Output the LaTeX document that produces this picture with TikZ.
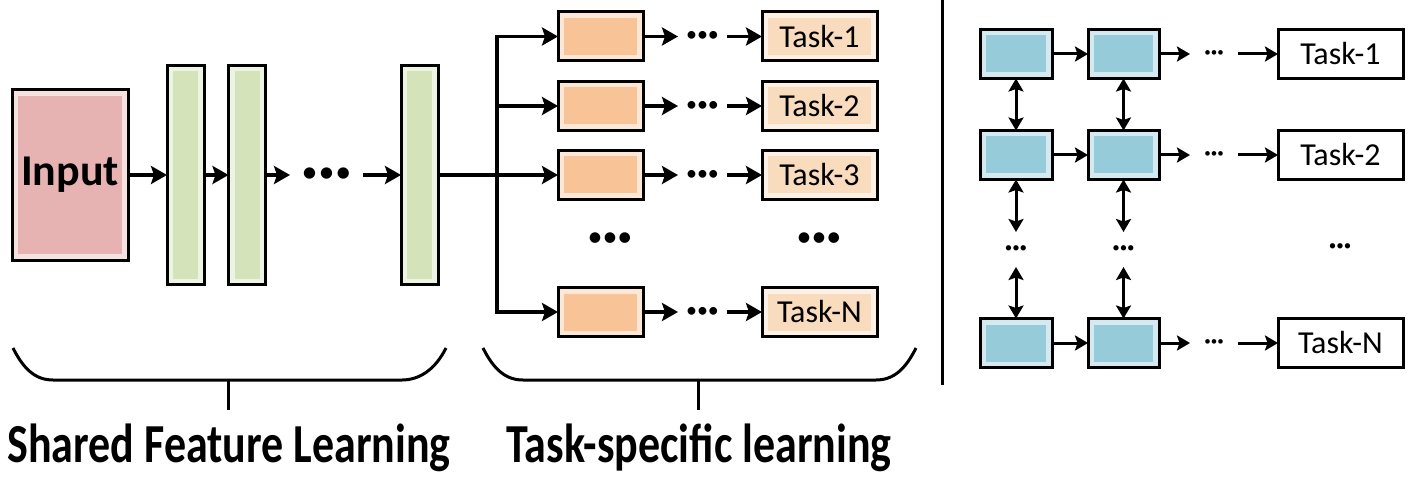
\documentclass[tikz,border=0pt]{standalone}
\usepackage{fontspec}
\setmainfont{Carlito}
\usetikzlibrary{arrows.meta,calc}
\definecolor{cpink}{HTML}{E6B3B2}
\definecolor{cgreen}{HTML}{D5E3BA}
\definecolor{corange}{HTML}{F9C398}
\definecolor{ctask}{HTML}{F9DCBD}
\definecolor{cblue}{HTML}{96CBD9}
\newcommand\tridots[1]{•\kern#1•\kern#1•}
\begin{document}
\begin{tikzpicture}[x=1pt,y=-1pt,
  box/.style={draw=black, line width=3pt, inner sep=0pt, outer sep=0pt},
  glow/.style={fill=#1!40!white, path picture={\fill[#1] ([shift={(6pt,-6pt)}]path picture bounding box.north west) rectangle ([shift={(-6pt,6pt)}]path picture bounding box.south east);}},
  arrL/.style={line width=3.5pt, -{Stealth[length=16pt,width=18pt,inset=3pt]}},
  lnL/.style={line width=3.5pt},
  arrR/.style={line width=3pt, -{Stealth[length=13pt,width=15pt,inset=2.5pt]}},
  darr/.style={line width=3pt, {Stealth[length=13pt,width=15pt,inset=2.5pt]}-{Stealth[length=13pt,width=15pt,inset=2.5pt]}},
  dotsnode/.style={inner sep=0pt, outer sep=0pt, align=center},
  tasktxt/.style={font=\fontsize{32}{32}\selectfont},
  brace/.style={line width=3pt}
]
\useasboundingbox (0,0) rectangle (1416,481);

% ---------- left: shared feature learning ----------
\node[box, glow=cpink, minimum width=116pt, minimum height=170pt, font=\bfseries\fontsize{44}{44}\selectfont] (inp) at (70,175) {Input};
\node[box, glow=cgreen, minimum width=37pt, minimum height=219pt] (b1) at (185.5,175) {};
\node[box, glow=cgreen, minimum width=37pt, minimum height=219pt] (b2) at (247,175) {};
\node[box, glow=cgreen, minimum width=37pt, minimum height=219pt] (b3) at (419.5,175) {};
\node[dotsnode, minimum width=73pt, font=\fontsize{32}{32}\selectfont] (d0) at (326.5,175) {\tridots{1pt}};

\draw[arrL] (inp) -- (b1);
\draw[arrL] (b1) -- (b2);
\draw[arrL] (b2) -- (d0);
\draw[arrL] (d0) -- (b3);

% ---------- task-specific branches ----------
\foreach \n/\y/\t in {1/36.5/Task-1, 2/106/Task-2, 3/175/Task-3, N/312/Task-N}{
  \node[box, glow=corange, minimum width=85pt, minimum height=49pt] (o\n) at (600.5,\y) {};
  \node[box, glow=ctask, minimum width=115pt, minimum height=49pt, tasktxt] (t\n) at (819.5,\y) {\t};
  \node[dotsnode, minimum width=49pt, font=\fontsize{22}{22}\selectfont] (e\n) at (702.5,\y) {\tridots{0pt}};
  \draw[arrL] (o\n) -- (e\n);
  \draw[arrL] (e\n) -- (t\n);
}
\node[dotsnode, font=\fontsize{30}{30}\selectfont] (om) at (610,240) {\tridots{0pt}};
\node[dotsnode, font=\fontsize{30}{30}\selectfont] (tm) at (819,240) {\tridots{0pt}};

\coordinate (sp) at (497,175);
\draw[arrL] (b3) -- (o3);
\draw[lnL, line cap=rect] (sp |- o1) -- (sp |- oN);
\draw[arrL] (sp |- o1) -- (o1);
\draw[arrL] (sp |- o2) -- (o2);
\draw[arrL] (sp |- oN) -- (oN);

% ---------- braces and labels ----------
\draw[brace] (13,348) .. controls (24,370) and (36,380) .. (53,380) -- (402,380) .. controls (419,380) and (435,370) .. (446,348);
\draw[brace] (228,380) -- (228,410);
\draw[brace] (483,348) .. controls (494,370) and (506,380) .. (523,380) -- (876,380) .. controls (893,380) and (905,370) .. (916,348);
\draw[brace] (698,380) -- (698,410);
\node[anchor=base, font=\bfseries\fontsize{44}{44}\selectfont] (l1) at (229,462) {\scalebox{1}[1.25]{Shared Feature Learning}};
\node[anchor=base, font=\bfseries\fontsize{44}{44}\selectfont] (l2) at (699,462) {\scalebox{1}[1.25]{Task-specific learning}};

% ---------- separator ----------
\draw[line width=3pt] (942,0) -- (942,385);

% ---------- right panel ----------
\foreach \r/\y/\t in {1/54/Task-1, 2/155/Task-2, N/343/Task-N}{
  \node[box, glow=cblue, minimum width=72pt, minimum height=49pt] (c\r a) at (1016,\y) {};
  \node[box, glow=cblue, minimum width=71pt, minimum height=49pt] (c\r b) at (1123.5,\y) {};
  \node[box, fill=white, minimum width=125pt, minimum height=49pt, tasktxt] (r\r) at (1340.5,\y) {\t};
  \node[dotsnode, minimum width=48pt, font=\fontsize{13}{13}\selectfont] (h\r) at (1214,\y) {\tridots{0pt}};
  \draw[arrR] (c\r a) -- (c\r b);
  \draw[arrR] (c\r b) -- (h\r);
  \draw[arrR] (h\r) -- (r\r);
}
\node[dotsnode, minimum height=35pt, font=\fontsize{15}{15}\selectfont] (va) at (1016,249.5) {\tridots{0pt}};
\node[dotsnode, minimum height=35pt, font=\fontsize{15}{15}\selectfont] (vb) at (1123.5,249.5) {\tridots{0pt}};
\node[dotsnode, font=\fontsize{15}{15}\selectfont] (vr) at (1340,247) {\tridots{0pt}};
\draw[darr] (c1a) -- (c2a);
\draw[darr] (c2a) -- (va);
\draw[darr] (va) -- (cNa);
\draw[darr] (c1b) -- (c2b);
\draw[darr] (c2b) -- (vb);
\draw[darr] (vb) -- (cNb);
\end{tikzpicture}
\end{document}
